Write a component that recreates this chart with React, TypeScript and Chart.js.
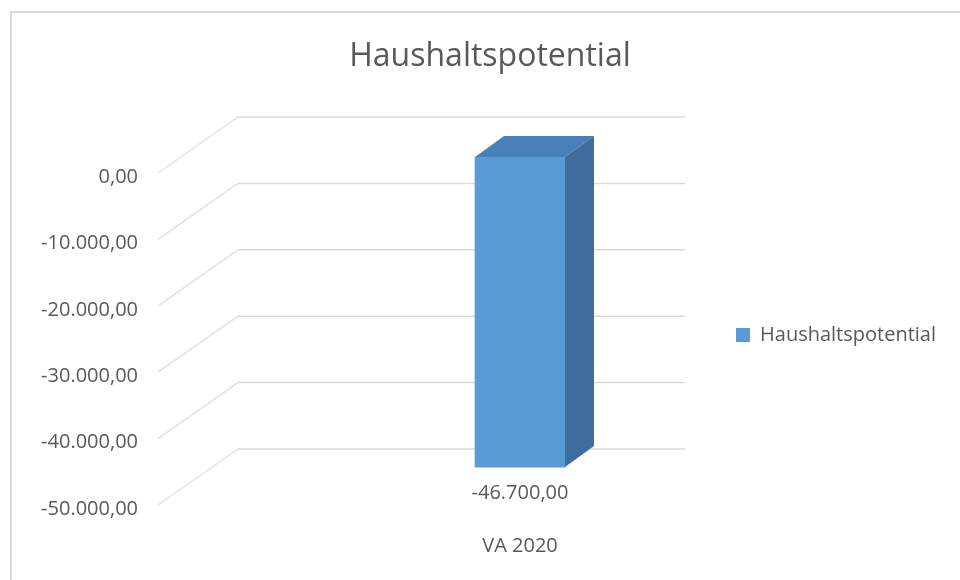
import React, { useEffect, useRef } from 'react';
import { Chart, registerables } from 'chart.js';

Chart.register(...registerables);

// ---- data ----
const TITLE = 'Haushaltspotential';
const CATEGORIES = ['VA 2020'];
const SERIES_LABEL = 'Haushaltspotential';
const SERIES_VALUES = [-46700];
const Y_MIN = -50000;
const Y_MAX = 0;
const Y_STEP = 10000;

// ---- style ----
const FONT = "'Open Sans', sans-serif";
const TEXT = '#595959';
const GRID = '#d9d9d9';
const SIDE_GRID = '#e2e2e2';
const BORDER = '#d9d9d9';
const FRONT_COLOR = '#5b9bd5';
const TOP_COLOR = '#4a80ba';
const SIDE_COLOR = '#3f6e9e';

// 3D geometry (pixel offsets relative to the bar plane / chart area)
const BACK_DY = -40;
const FRONT_DY = 16;
const BACK_LEFT_DX = -76;
const FRONT_LEFT_DX = -156;
const BACK_RIGHT_DX = -41;
const BAR_DEPTH_X = 29;
const BAR_DEPTH_Y = -21;

function fmtDE(v: number): string {
  const neg = v < 0;
  const cents = Math.round(Math.abs(v) * 100);
  const int = Math.floor(cents / 100);
  const dec = cents % 100;
  const s = String(int).replace(/\B(?=(\d{3})+(?!\d))/g, '.');
  return (neg ? '-' : '') + s + ',' + String(dec).padStart(2, '0');
}

const bgPlugin = {
  id: 'bgBorder',
  beforeDraw(chart: any) {
    const { ctx, width, height } = chart;
    ctx.save();
    ctx.fillStyle = '#ffffff';
    ctx.fillRect(0, 0, width, height);
    ctx.strokeStyle = BORDER;
    ctx.lineWidth = 2;
    ctx.beginPath();
    ctx.moveTo(11, height);
    ctx.lineTo(11, 12);
    ctx.lineTo(width, 12);
    ctx.stroke();
    ctx.restore();
  },
};

const wallsPlugin = {
  id: 'walls3d',
  beforeDatasetsDraw(chart: any) {
    const { ctx, chartArea, scales } = chart;
    const y = scales.y;
    const xb = chartArea.left + BACK_LEFT_DX;
    const xf = chartArea.left + FRONT_LEFT_DX;
    const xr = chartArea.right + BACK_RIGHT_DX;
    ctx.save();
    ctx.lineWidth = 1.5;
    y.ticks.forEach((t: any) => {
      const p = y.getPixelForValue(t.value);
      const yb = p + BACK_DY;
      const yf = p + FRONT_DY;
      ctx.strokeStyle = GRID;
      ctx.beginPath();
      ctx.moveTo(xb, yb);
      ctx.lineTo(xr, yb);
      ctx.stroke();
      ctx.strokeStyle = SIDE_GRID;
      ctx.beginPath();
      ctx.moveTo(xb, yb);
      ctx.lineTo(xf, yf);
      ctx.stroke();
    });
    ctx.restore();
  },
};

const bar3dPlugin = {
  id: 'bar3d',
  afterDatasetsDraw(chart: any) {
    const { ctx } = chart;
    const ds = chart.data.datasets[0];
    const meta = chart.getDatasetMeta(0);
    ctx.save();
    meta.data.forEach((el: any, i: number) => {
      const { x, y, base, width } = el.getProps(['x', 'y', 'base', 'width'], true);
      const l = x - width / 2;
      const r = x + width / 2;
      const top = Math.min(y, base);
      const bot = Math.max(y, base);
      ctx.fillStyle = TOP_COLOR;
      ctx.beginPath();
      ctx.moveTo(l, top);
      ctx.lineTo(r, top);
      ctx.lineTo(r + BAR_DEPTH_X, top + BAR_DEPTH_Y);
      ctx.lineTo(l + BAR_DEPTH_X, top + BAR_DEPTH_Y);
      ctx.closePath();
      ctx.fill();
      ctx.fillStyle = SIDE_COLOR;
      ctx.beginPath();
      ctx.moveTo(r, top);
      ctx.lineTo(r + BAR_DEPTH_X, top + BAR_DEPTH_Y);
      ctx.lineTo(r + BAR_DEPTH_X, bot + BAR_DEPTH_Y);
      ctx.lineTo(r, bot);
      ctx.closePath();
      ctx.fill();
      // data label
      ctx.fillStyle = TEXT;
      ctx.font = `20px ${FONT}`;
      ctx.textAlign = 'center';
      ctx.textBaseline = 'middle';
      ctx.fillText(fmtDE(ds.data[i] as number), x, bot + 26.5);
    });
    ctx.restore();
  },
};

export default function App() {
  const ref = useRef<HTMLCanvasElement>(null);
  useEffect(() => {
    if (!ref.current) return;
    const chart = new Chart(ref.current, {
      type: 'bar',
      data: {
        labels: CATEGORIES,
        datasets: [
          {
            label: SERIES_LABEL,
            data: SERIES_VALUES,
            backgroundColor: FRONT_COLOR,
            borderWidth: 0,
            barThickness: 90,
          },
        ],
      },
      options: {
        responsive: false,
        animation: false,
        layout: { padding: { left: 34, right: 14, top: 0, bottom: 0 } },
        plugins: {
          title: {
            display: true,
            text: TITLE,
            color: TEXT,
            font: { family: FONT, size: 32, weight: 'normal' },
            padding: { top: 38, bottom: 80.6 },
          },
          legend: {
            position: 'right',
            fullSize: false,
            maxWidth: 400,
            title: { display: true, text: '', padding: 0, font: { family: FONT, size: 20 } },
            labels: {
              boxWidth: 14,
              boxHeight: 14,
              color: TEXT,
              font: { family: FONT, size: 20 },
              padding: 10,
            },
          },
          tooltip: { enabled: false },
        },
        scales: {
          x: {
            grid: { display: false },
            border: { display: false },
            ticks: { color: TEXT, font: { family: FONT, size: 20 }, padding: 37 },
            afterFit: (s: any) => {
              s.height = 91;
              s.paddingLeft = 0;
              s.paddingRight = 0;
            },
          },
          y: {
            min: Y_MIN,
            max: Y_MAX,
            grid: { display: false },
            border: { display: false },
            ticks: {
              stepSize: Y_STEP,
              callback: (v: any) => fmtDE(Number(v)),
              color: TEXT,
              font: { family: FONT, size: 20 },
              padding: 168,
              labelOffset: 20,
            },
            afterFit: (s: any) => {
              s.width = 280;
              s.paddingTop = 0;
              s.paddingBottom = 0;
            },
          },
        },
      } as any,
      plugins: [bgPlugin, wallsPlugin, bar3dPlugin],
    });
    return () => chart.destroy();
  }, []);
  return (
    <div style={{ position: 'absolute', left: 0, top: 0, width: 960, height: 580, background: '#fff' }}>
      <canvas ref={ref} width={960} height={580} style={{ display: 'block' }} />
    </div>
  );
}
